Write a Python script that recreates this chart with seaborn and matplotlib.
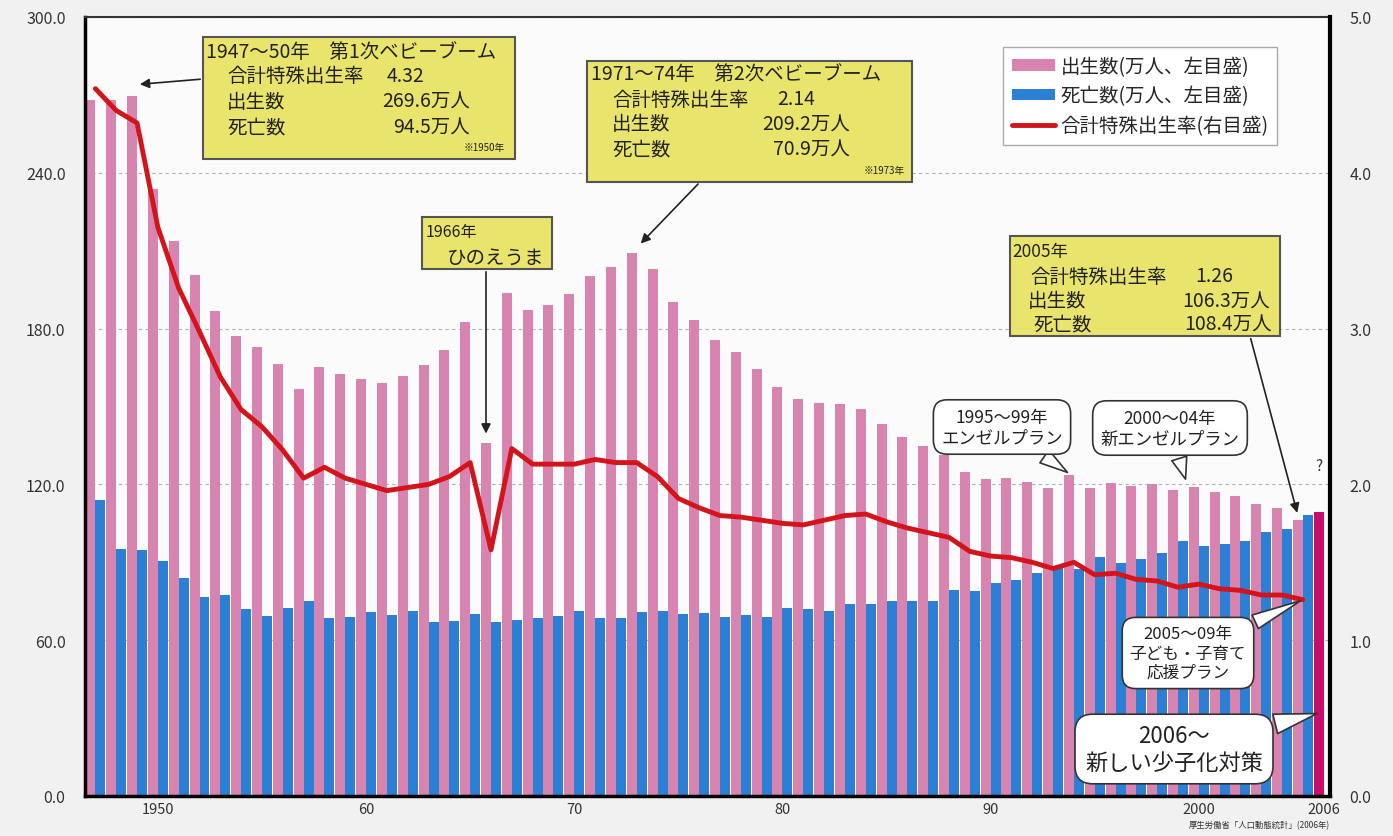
import numpy as np
import pandas as pd
import matplotlib.pyplot as plt
import seaborn as sns
from matplotlib.patches import Rectangle, Patch
from matplotlib.lines import Line2D
from matplotlib.ticker import FormatStrFormatter

# 1947-2006, births / deaths in 万人, TFR 1947-2005
years = list(range(1947, 2007))
births = [267.9, 268.2, 269.7, 233.8, 213.8, 200.5, 186.8, 177.0, 173.1, 166.5,
          156.7, 165.3, 162.6, 160.6, 158.9, 161.9, 166.0, 171.7, 182.4, 136.1,
          193.6, 187.2, 189.0, 193.4, 200.1, 203.9, 209.2, 203.0, 190.1, 183.3,
          175.5, 170.9, 164.3, 157.7, 152.9, 151.5, 150.9, 149.0, 143.2, 138.3,
          134.7, 131.4, 124.7, 122.2, 122.3, 120.9, 118.8, 123.8, 118.7, 120.7,
          119.2, 120.3, 117.8, 119.1, 117.1, 115.4, 112.4, 111.1, 106.3, 109.3]
deaths = [113.8, 95.1, 94.6, 90.5, 83.9, 76.5, 77.3, 72.1, 69.4, 72.4,
          75.2, 68.5, 69.0, 70.7, 69.6, 71.1, 67.1, 67.3, 70.0, 67.0,
          67.6, 68.7, 69.4, 71.3, 68.5, 68.4, 70.9, 71.1, 70.2, 70.3,
          69.0, 69.6, 69.0, 72.3, 72.0, 71.2, 74.0, 74.0, 75.2, 75.1,
          75.1, 79.3, 78.9, 82.0, 83.0, 85.7, 87.9, 87.6, 92.2, 89.6,
          91.3, 93.6, 98.2, 96.2, 97.0, 98.2, 101.5, 102.9, 108.4]
tfr = [4.54, 4.40, 4.32, 3.65, 3.26, 2.98, 2.69, 2.48, 2.37, 2.22,
       2.04, 2.11, 2.04, 2.00, 1.96, 1.98, 2.00, 2.05, 2.14, 1.58,
       2.23, 2.13, 2.13, 2.13, 2.16, 2.14, 2.14, 2.05, 1.91, 1.85,
       1.80, 1.79, 1.77, 1.75, 1.74, 1.77, 1.80, 1.81, 1.76, 1.72,
       1.69, 1.66, 1.57, 1.54, 1.53, 1.50, 1.46, 1.50, 1.42, 1.43,
       1.39, 1.38, 1.34, 1.36, 1.33, 1.32, 1.29, 1.29, 1.26]
tick_years = [1950, 1960, 1970, 1980, 1990, 2000, 2006]
tick_labels = ['1950', '60', '70', '80', '90', '2000', '2006']

PINK = '#d884b0'
BLUE = '#2b80d6'
MAGENTA = '#c80c6c'
RED = '#d3141a'
YELLOW = '#e9e56c'

sns.set_theme(style='white')
plt.rcParams['font.family'] = ['Noto Sans CJK JP', 'DejaVu Sans']

W, H = 1393, 837
fig = plt.figure(figsize=(W / 100, H / 100), dpi=100, facecolor='#f1f1f1')
ax = fig.add_axes([85 / W, 1 - 797 / H, (1330 - 85) / W, (797 - 18) / H])
ax.set_facecolor('#fbfbfb')

df = pd.DataFrame({
    'year': years + years[:len(deaths)],
    'value': births + deaths,
    'series': ['出生数'] * len(births) + ['死亡数'] * len(deaths),
})
sns.barplot(data=df, x='year', y='value', hue='series', palette=[PINK, BLUE],
            width=0.96, saturation=1, errorbar=None, legend=False,
            linewidth=0, ax=ax)
# 2006 births drawn in a darker colour
ax.containers[0][-1].set_facecolor(MAGENTA)

ax.set_ylim(0, 300)
ax.set_yticks(np.arange(0, 301, 60))
ax.yaxis.set_major_formatter(FormatStrFormatter('%.1f'))
ax.set_xticks([years.index(y) for y in tick_years])
ax.set_xticklabels(tick_labels)
ax.set_xlabel('')
ax.set_ylabel('')
ax.set_axisbelow(True)
ax.yaxis.grid(True, color='#b0b0b0', lw=0.8, linestyle=(0, (3, 3)))
ax.tick_params(axis='y', length=0, pad=14, labelsize=11.5, labelcolor='#333333')
ax.tick_params(axis='x', length=0, pad=4, labelsize=10.5, labelcolor='#333333')
for s in ['left', 'bottom']:
    ax.spines[s].set_color('black')
    ax.spines[s].set_linewidth(2.5)
ax.spines['top'].set_color('#333333')
ax.spines['top'].set_linewidth(1.5)
ax.spines['right'].set_visible(False)

ax2 = ax.twinx()
sns.lineplot(x=np.arange(len(tfr)), y=tfr, ax=ax2, color=RED, lw=3.5)
ax2.set_ylim(0, 5)
ax2.set_yticks(np.arange(0, 5.1, 1))
ax2.yaxis.set_major_formatter(FormatStrFormatter('%.1f'))
ax2.tick_params(axis='y', length=0, pad=14, labelsize=11.5, labelcolor='#333333')
for s in ['left', 'top', 'bottom']:
    ax2.spines[s].set_visible(False)
ax2.spines['right'].set_color('black')
ax2.spines['right'].set_linewidth(3)
ax.set_xlim(-0.5, 59.3)

ax2.text(58.76, 2.12, '?', ha='center', va='center', fontsize=11, color='#333333')


def fx(px):
    return px / W


def fy(py):
    return 1 - py / H


def ybox(x0, y0, x1, y1):
    fig.add_artist(Rectangle((fx(x0), fy(y1)), (x1 - x0) / W, (y1 - y0) / H,
                             transform=fig.transFigure, fc=YELLOW,
                             ec='#555555', lw=1.5))


def t(px, py, s, size=14, ha='left'):
    fig.text(fx(px), fy(py), s, ha=ha, va='center', fontsize=size, color='#222222')


arrow = dict(arrowstyle='-|>', color='#222222', lw=1.2, mutation_scale=14)

# 1st baby boom
ybox(203, 38, 515, 160)
t(206, 52, '1947〜50年　第1次ベビーブーム')
t(227, 76, '合計特殊出生率')
t(387, 76, '4.32')
t(227, 102, '出生数')
t(470, 102, '269.6万人', ha='right')
t(227, 128, '死亡数')
t(470, 128, '94.5万人', ha='right')
t(505, 148, '※1950年', size=7, ha='right')
ax2.annotate('', xy=(2, 274), xycoords=ax.transData, xytext=(203, H - 80),
             textcoords='figure pixels', arrowprops=arrow)

# 2nd baby boom
ybox(587, 62, 912, 183)
t(591, 75, '1971〜74年　第2次ベビーブーム')
t(612, 100, '合計特殊出生率')
t(777, 100, '2.14')
t(612, 125, '出生数')
t(850, 125, '209.2万人', ha='right')
t(612, 150, '死亡数')
t(850, 150, '70.9万人', ha='right')
t(905, 171, '※1973年', size=7, ha='right')
ax2.annotate('', xy=(26.1, 212), xycoords=ax.transData, xytext=(700, H - 183),
             textcoords='figure pixels', arrowprops=arrow)

# hinoeuma
ybox(422, 218, 552, 270)
t(426, 233, '1966年', size=11.5)
t(447, 258, 'ひのえうま')
ax2.annotate('', xy=(18.76, 138.5), xycoords=ax.transData, xytext=(486, H - 270),
             textcoords='figure pixels', arrowprops=arrow)

# 2005
ybox(1010, 237, 1280, 337)
t(1012, 252, '2005年', size=12.5)
t(1030, 277, '合計特殊出生率')
t(1195, 277, '1.26')
t(1028, 302, '出生数')
t(1270, 302, '106.3万人', ha='right')
t(1033, 325, '死亡数')
t(1272, 325, '108.4万人', ha='right')
ax2.annotate('', xy=(57.76, 108), xycoords=ax.transData, xytext=(1250, H - 337),
             textcoords='figure pixels', arrowprops=arrow)

# speech bubbles
bub = dict(boxstyle='round,pad=0.45,rounding_size=0.8', fc='white', ec='#333333', lw=1.2)
wedge = dict(arrowstyle='wedge,tail_width=0.9', fc='white', ec='#333333', lw=1.2)
for txt, xy, pos, size in [
        ('1995〜99年\nエンゼルプラン', (46.8, 124), (1002, 428), 12.5),
        ('2000〜04年\n新エンゼルプラン', (52.4, 121), (1170, 429), 12.5),
        ('2005〜09年\n子ども・子育て\n応援プラン', (58.0, 75.6), (1188, 654), 12),
        ('2006〜\n新しい少子化対策', (58.8, 32), (1174, 750), 16)]:
    ax2.annotate(txt, xy=xy, xycoords=ax.transData, xytext=(pos[0], H - pos[1]),
                 textcoords='figure pixels', ha='center', va='center',
                 fontsize=size, color='#222222', linespacing=1.2,
                 bbox=bub, arrowprops=wedge)

handles = [Patch(fc=PINK, ec='none'), Patch(fc=BLUE, ec='none'),
           Line2D([], [], color=RED, lw=3.5)]
labels = ['出生数(万人、左目盛)', '死亡数(万人、左目盛)', '合計特殊出生率(右目盛)']
leg = fig.legend(handles, labels, loc='upper left', bbox_to_anchor=(fx(1003), fy(48)),
                 fontsize=14, frameon=True, fancybox=False, edgecolor='#aaaaaa',
                 framealpha=1, borderaxespad=0, handlelength=2.2, handleheight=0.55,
                 labelspacing=0.45, handletextpad=0.3, borderpad=0.45)
leg.get_frame().set_linewidth(1.0)

fig.text(fx(1330), fy(826), '厚生労働省「人口動態統計」(2006年)', ha='right',
         va='center', fontsize=6, color='#333333')

fig.savefig('out.png', dpi=100, facecolor=fig.get_facecolor())
